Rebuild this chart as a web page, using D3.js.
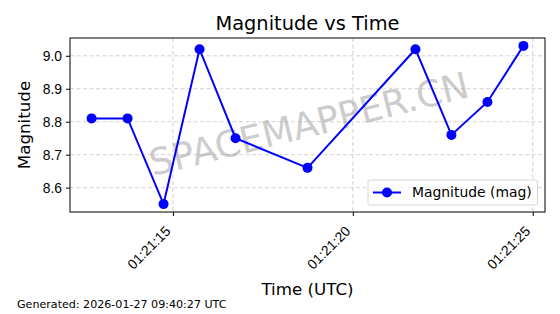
<!DOCTYPE html>
<html>
<head>
<meta charset="utf-8">
<script src="https://cdn.jsdelivr.net/npm/d3@7"></script>
<style>
  body { margin: 0; background: #fff; }
  svg { font-family: "DejaVu Sans", sans-serif; display: block; }
</style>
</head>
<body>
<svg id="chart" width="560" height="314"></svg>
<script>
const times = [
  '2026-01-27T01:21:12.74Z', '2026-01-27T01:21:13.74Z', '2026-01-27T01:21:14.74Z',
  '2026-01-27T01:21:15.74Z', '2026-01-27T01:21:16.74Z', '2026-01-27T01:21:18.74Z',
  '2026-01-27T01:21:21.74Z', '2026-01-27T01:21:22.74Z', '2026-01-27T01:21:23.74Z',
  '2026-01-27T01:21:24.74Z'
];
const magnitudes = [8.81, 8.81, 8.55, 9.02, 8.75, 8.66, 9.02, 8.76, 8.86, 9.03];
const xTicks = ['2026-01-27T01:21:15Z', '2026-01-27T01:21:20Z', '2026-01-27T01:21:25Z'];
const yTicks = [8.6, 8.7, 8.8, 8.9, 9.0];

const points = times.map((t, i) => ({ t: new Date(t), m: magnitudes[i] }));

const svg = d3.select('#chart');
const plotLeft = 70, plotRight = 545, plotTop = 38, plotBottom = 212;

// matplotlib style 5% margins
const tExt = d3.extent(points, d => d.t);
const tPad = (tExt[1] - tExt[0]) * 0.05;
const mExt = d3.extent(points, d => d.m);
const mPad = (mExt[1] - mExt[0]) * 0.05;

const x = d3.scaleUtc()
  .domain([new Date(+tExt[0] - tPad), new Date(+tExt[1] + tPad)])
  .range([plotLeft, plotRight]);
const y = d3.scaleLinear()
  .domain([mExt[0] - mPad, mExt[1] + mPad])
  .range([plotBottom, plotTop]);

const tickDates = xTicks.map(d => new Date(d));

// grid
const grid = svg.append('g')
  .attr('stroke', '#b0b0b0')
  .attr('stroke-opacity', 0.7)
  .attr('stroke-width', 0.8)
  .attr('stroke-dasharray', '4,2.5');
grid.selectAll('.gx').data(tickDates).join('line')
  .attr('x1', d => x(d)).attr('x2', d => x(d))
  .attr('y1', plotTop).attr('y2', plotBottom);
grid.selectAll('.gy').data(yTicks).join('line')
  .attr('x1', plotLeft).attr('x2', plotRight)
  .attr('y1', d => y(d)).attr('y2', d => y(d));

// watermark
svg.append('text')
  .attr('transform', 'translate(309,124) rotate(-14)')
  .attr('text-anchor', 'middle')
  .attr('dy', '0.35em')
  .attr('font-size', 36.5)
  .attr('fill', '#999')
  .attr('fill-opacity', 0.5)
  .text('SPACEMAPPER.CN');

// axes
const xAxis = svg.append('g')
  .attr('transform', `translate(0,${plotBottom})`)
  .call(d3.axisBottom(x).tickValues(tickDates).tickFormat(d3.utcFormat('%H:%M:%S')).tickSizeOuter(0).tickSize(4));
xAxis.select('.domain').remove();
xAxis.selectAll('text')
  .attr('font-size', 13.9)
  .attr('fill', '#000')
  .attr('x', 0)
  .attr('y', 0)
  .attr('dy', 0)
  .attr('text-anchor', 'end')
  .attr('transform', 'translate(-2,20) rotate(-45)');

const yAxis = svg.append('g')
  .attr('transform', `translate(${plotLeft},0)`)
  .call(d3.axisLeft(y).tickValues(yTicks).tickFormat(d3.format('.1f')).tickSizeOuter(0).tickSize(4));
yAxis.select('.domain').remove();
yAxis.selectAll('text').attr('font-size', 13.9).attr('fill', '#000').attr('x', -8);

svg.append('rect')
  .attr('x', plotLeft).attr('y', plotTop)
  .attr('width', plotRight - plotLeft).attr('height', plotBottom - plotTop)
  .attr('fill', 'none').attr('stroke', '#000').attr('stroke-width', 1);

// series
const line = d3.line().x(d => x(d.t)).y(d => y(d.m));
svg.append('path')
  .datum(points)
  .attr('d', line)
  .attr('fill', 'none')
  .attr('stroke', '#0000ff')
  .attr('stroke-width', 2);
svg.append('g').selectAll('circle').data(points).join('circle')
  .attr('cx', d => x(d.t)).attr('cy', d => y(d.m))
  .attr('r', 5)
  .attr('fill', '#0000ff');

// legend
const lg = svg.append('g').attr('transform', 'translate(368,180)');
lg.append('rect')
  .attr('width', 169.5).attr('height', 25).attr('rx', 2)
  .attr('fill', '#fff').attr('fill-opacity', 0.8)
  .attr('stroke', '#d6d6d6');
lg.append('line').attr('x1', 5).attr('x2', 33).attr('y1', 12.5).attr('y2', 12.5)
  .attr('stroke', '#0000ff').attr('stroke-width', 2);
lg.append('circle').attr('cx', 19).attr('cy', 12.5).attr('r', 5).attr('fill', '#0000ff');
lg.append('text').attr('x', 44).attr('y', 12.5).attr('dy', '0.35em')
  .attr('font-size', 13.9).text('Magnitude (mag)');

// titles
svg.append('text').attr('x', (plotLeft + plotRight) / 2).attr('y', 30)
  .attr('text-anchor', 'middle').attr('font-size', 19.4).text('Magnitude vs Time');
svg.append('text').attr('x', (plotLeft + plotRight) / 2).attr('y', 295)
  .attr('text-anchor', 'middle').attr('font-size', 16.7).text('Time (UTC)');
svg.append('text').attr('transform', `translate(30,${(plotTop + plotBottom) / 2}) rotate(-90)`)
  .attr('text-anchor', 'middle').attr('font-size', 16.7).text('Magnitude');
svg.append('text').attr('x', 17).attr('y', 308)
  .attr('font-size', 11.1).text('Generated: 2026-01-27 09:40:27 UTC');
</script>
</body>
</html>
